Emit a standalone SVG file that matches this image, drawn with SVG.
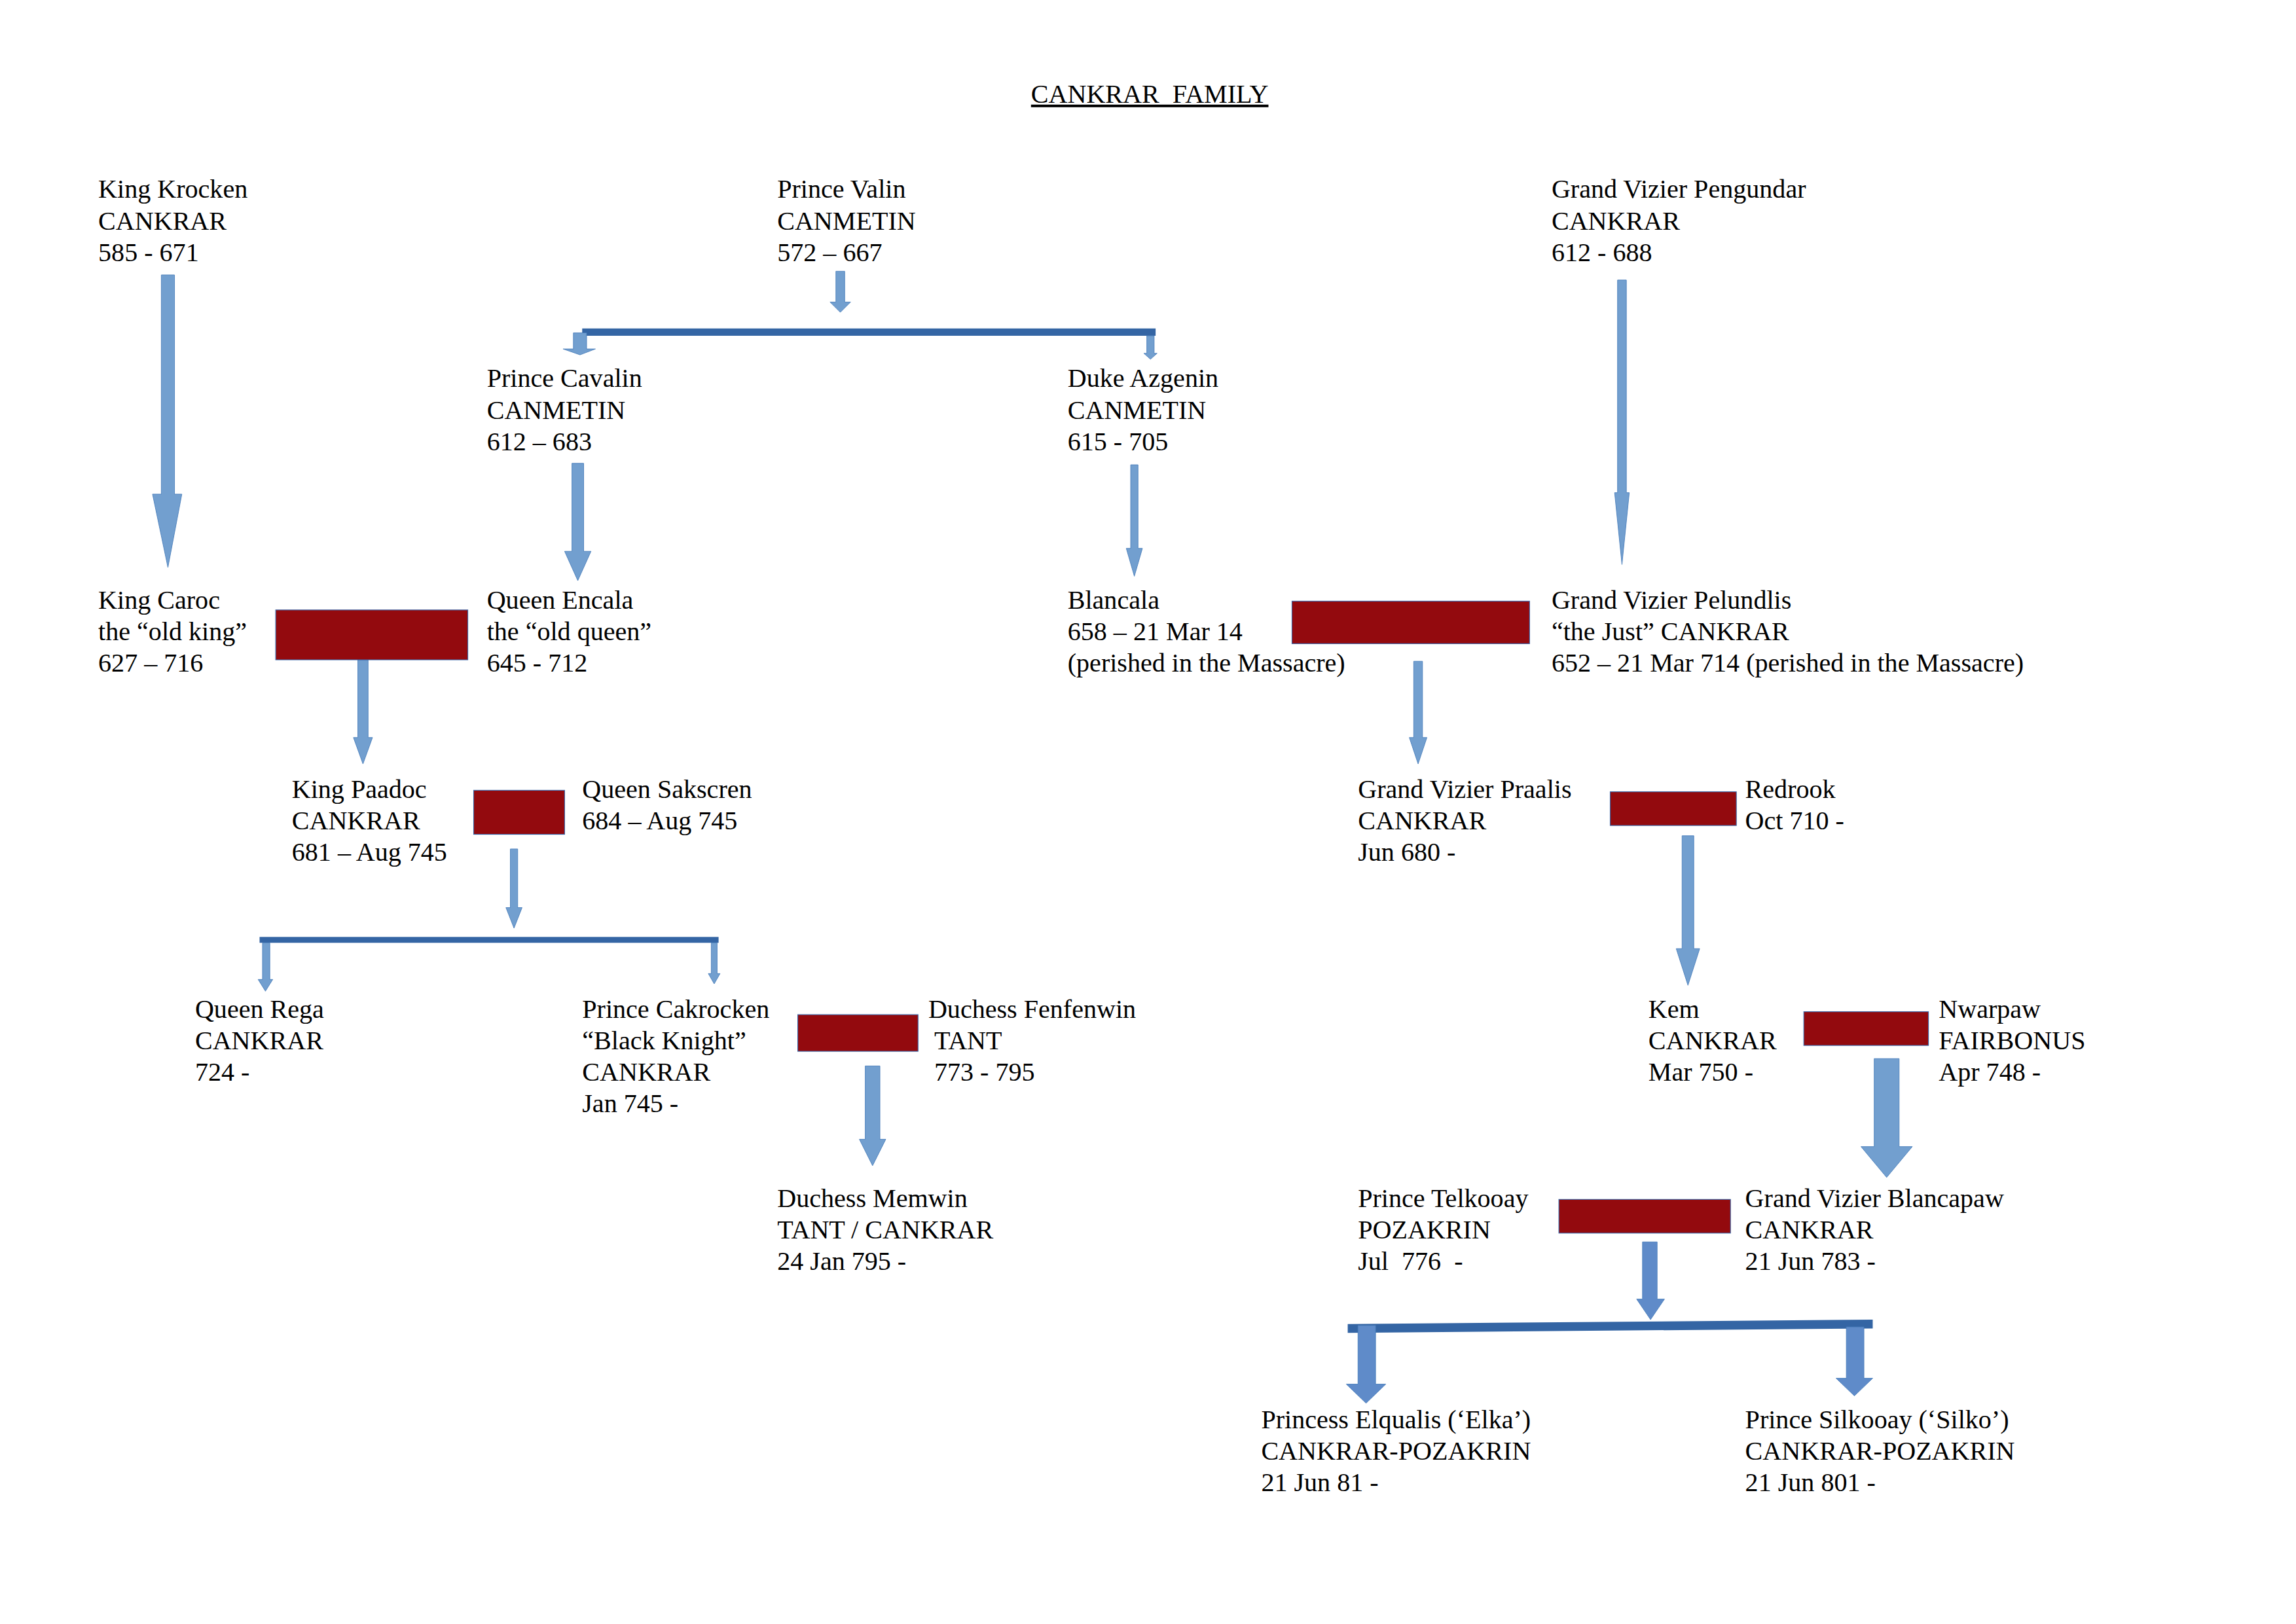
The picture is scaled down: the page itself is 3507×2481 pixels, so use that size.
<svg xmlns="http://www.w3.org/2000/svg" width="3507" height="2481" viewBox="0 0 3507 2481">
<style>
text{font-family:"Liberation Serif","Times New Roman",serif;font-size:17.9px;fill:#000}
.a{fill:#729FCF;stroke:#4A7EBB;stroke-width:0.4}
.d{fill:#5F8BC9;stroke:#4A7EBB;stroke-width:0.4}
.b{fill:#3465A4}
.r{fill:#930A0E;stroke:#3A67A8;stroke-width:0.5}
</style>
<rect width="3507" height="2481" fill="#fff"/>
<g transform="scale(2.24)">
<text id="title" x="784" y="70" text-anchor="middle" text-decoration="underline" xml:space="preserve">CANKRAR  FAMILY</text>
<g id="connectors">
<polygon class="a" points="110,187.5 119,187.5 119,337 124,337 114.5,387 104,337 110,337"/>
<polygon class="a" points="570,185 576,185 576,206 580,206 573,213 566,206 570,206"/>
<rect class="b" x="397" y="224" width="391" height="5"/>
<polygon class="a" points="391,227 400,227 400,238 406,238 395.5,242 384,238 391,238"/>
<polygon class="a" points="782,229 787,229 787,241 789,241 784.5,245 780,241 782,241"/>
<polygon class="a" points="390,316 398,316 398,376 403,376 394,396 385,376 390,376"/>
<polygon class="a" points="771,317 776,317 776,374 779,374 773.5,393 768,374 771,374"/>
<polygon class="a" points="1103,191 1109,191 1109,336 1111,336 1106,385 1101,336 1103,336"/>
<polygon class="a" points="244,450 251,450 251,503 254,503 247.5,521 241,503 244,503"/>
<polygon class="a" points="964,451 970,451 970,503 973,503 967,521 961,503 964,503"/>
<polygon class="a" points="348,579 353,579 353,619 356,619 350.5,633 345,619 348,619"/>
<rect class="b" x="177" y="639" width="313" height="4"/>
<polygon class="a" points="179,643 184,643 184,668 186,668 181,676 176,668 179,668"/>
<polygon class="a" points="485,643 489,643 489,664 491,664 487,671 483,664 485,664"/>
<polygon class="a" points="1147,570 1155,570 1155,647 1159,647 1151,672 1143,647 1147,647"/>
<polygon class="a" points="590,727 600,727 600,777 604,777 595,795 586,777 590,777"/>
<polygon class="a" points="1278,722 1295,722 1295,782 1304,782 1286.5,803 1269,782 1278,782"/>
<polygon class="d" points="1120,847 1130,847 1130,886 1135,886 1125.5,900 1116,886 1120,886"/>
<polygon class="b" points="919,903 1277,900 1277,906 919,909"/>
<polygon class="d" points="926,904 938,904 938,944 945,944 931.5,957 918,944 926,944"/>
<polygon class="d" points="1259,905 1271,905 1271,940 1277,940 1264.5,952 1252,940 1259,940"/>
</g>
<g id="unions">
<rect class="r" x="188" y="416" width="131" height="34"/>
<rect class="r" x="881" y="410" width="162" height="29"/>
<rect class="r" x="323" y="539" width="62" height="30"/>
<rect class="r" x="1098" y="540" width="86" height="23"/>
<rect class="r" x="544" y="692" width="82" height="25"/>
<rect class="r" x="1230" y="690" width="85" height="23"/>
<rect class="r" x="1063" y="818" width="117" height="23"/>
</g>
<g id="krocken"><text x="67" y="135">King Krocken<tspan x="67" dy="21.5">CANKRAR</tspan><tspan x="67" dy="21.5">585 - 671</tspan></text></g>
<g id="valin"><text x="530" y="135">Prince Valin<tspan x="530" dy="21.5">CANMETIN</tspan><tspan x="530" dy="21.5">572 – 667</tspan></text></g>
<g id="pengundar"><text x="1058" y="135">Grand Vizier Pengundar<tspan x="1058" dy="21.5">CANKRAR</tspan><tspan x="1058" dy="21.5">612 - 688</tspan></text></g>
<g id="cavalin"><text x="332" y="264">Prince Cavalin<tspan x="332" dy="21.5">CANMETIN</tspan><tspan x="332" dy="21.5">612 – 683</tspan></text></g>
<g id="azgenin"><text x="728" y="264">Duke Azgenin<tspan x="728" dy="21.5">CANMETIN</tspan><tspan x="728" dy="21.5">615 - 705</tspan></text></g>
<g id="caroc"><text x="67" y="415">King Caroc<tspan x="67" dy="21.5">the “old king”</tspan><tspan x="67" dy="21.5">627 – 716</tspan></text></g>
<g id="encala"><text x="332" y="415">Queen Encala<tspan x="332" dy="21.5">the “old queen”</tspan><tspan x="332" dy="21.5">645 - 712</tspan></text></g>
<g id="blancala"><text x="728" y="415">Blancala<tspan x="728" dy="21.5">658 – 21 Mar 14</tspan><tspan x="728" dy="21.5">(perished in the Massacre)</tspan></text></g>
<g id="pelundlis"><text x="1058" y="415">Grand Vizier Pelundlis<tspan x="1058" dy="21.5">“the Just” CANKRAR</tspan><tspan x="1058" dy="21.5">652 – 21 Mar 714 (perished in the Massacre)</tspan></text></g>
<g id="paadoc"><text x="199" y="544">King Paadoc<tspan x="199" dy="21.5">CANKRAR</tspan><tspan x="199" dy="21.5">681 – Aug 745</tspan></text></g>
<g id="sakscren"><text x="397" y="544">Queen Sakscren<tspan x="397" dy="21.5">684 – Aug 745</tspan></text></g>
<g id="praalis"><text x="926" y="544">Grand Vizier Praalis<tspan x="926" dy="21.5">CANKRAR</tspan><tspan x="926" dy="21.5">Jun 680 -</tspan></text></g>
<g id="redrook"><text x="1190" y="544">Redrook<tspan x="1190" dy="21.5">Oct 710 -</tspan></text></g>
<g id="rega"><text x="133" y="694">Queen Rega<tspan x="133" dy="21.5">CANKRAR</tspan><tspan x="133" dy="21.5">724 -</tspan></text></g>
<g id="cakrocken"><text x="397" y="694">Prince Cakrocken<tspan x="397" dy="21.5">“Black Knight”</tspan><tspan x="397" dy="21.5">CANKRAR</tspan><tspan x="397" dy="21.5">Jan 745 -</tspan></text></g>
<g id="fenfenwin"><text x="633" y="694">Duchess Fenfenwin<tspan x="637" dy="21.5">TANT</tspan><tspan x="637" dy="21.5">773 - 795</tspan></text></g>
<g id="kem"><text x="1124" y="694">Kem<tspan x="1124" dy="21.5">CANKRAR</tspan><tspan x="1124" dy="21.5">Mar 750 -</tspan></text></g>
<g id="nwarpaw"><text x="1322" y="694">Nwarpaw<tspan x="1322" dy="21.5">FAIRBONUS</tspan><tspan x="1322" dy="21.5">Apr 748 -</tspan></text></g>
<g id="memwin"><text x="530" y="823">Duchess Memwin<tspan x="530" dy="21.5">TANT / CANKRAR</tspan><tspan x="530" dy="21.5">24 Jan 795 -</tspan></text></g>
<g id="telkooay"><text x="926" y="823" xml:space="preserve">Prince Telkooay<tspan x="926" dy="21.5">POZAKRIN</tspan><tspan x="926" dy="21.5">Jul  776  -</tspan></text></g>
<g id="blancapaw"><text x="1190" y="823">Grand Vizier Blancapaw<tspan x="1190" dy="21.5">CANKRAR</tspan><tspan x="1190" dy="21.5">21 Jun 783 -</tspan></text></g>
<g id="elqualis"><text x="860" y="974">Princess Elqualis (‘Elka’)<tspan x="860" dy="21.5">CANKRAR-POZAKRIN</tspan><tspan x="860" dy="21.5">21 Jun 81 -</tspan></text></g>
<g id="silkooay"><text x="1190" y="974">Prince Silkooay (‘Silko’)<tspan x="1190" dy="21.5">CANKRAR-POZAKRIN</tspan><tspan x="1190" dy="21.5">21 Jun 801 -</tspan></text></g>
</g>
</svg>
